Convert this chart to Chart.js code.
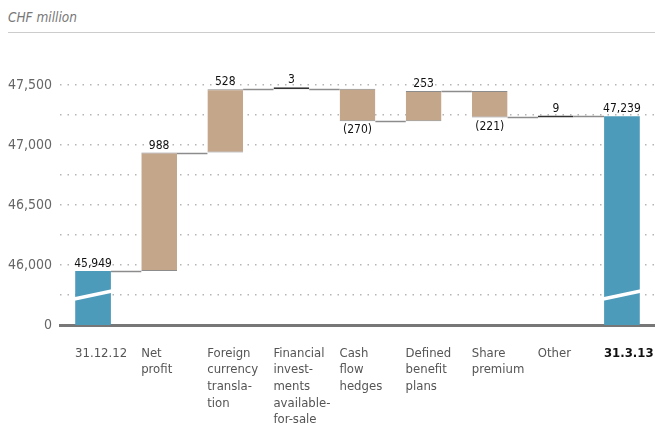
<!DOCTYPE html>
<html>
<head>
<meta charset="utf-8">
<script src="https://cdn.jsdelivr.net/npm/chart.js@4"></script>
<style>
  body { margin: 0; background: #fff; }
  #wrap { width: 655px; height: 436px; position: relative; overflow: hidden; }
  #unit { position: absolute; left: 8px; top: 9px; font: italic 13.5px 'Liberation Sans Narrow', 'DejaVu Sans Condensed', sans-serif; color: #777; }
  #rule { position: absolute; left: 8px; right: 0; top: 32px; border-top: 1.5px solid #ccc; }
  #box { position: absolute; left: 0; top: 36px; width: 655px; height: 400px; }
</style>
</head>
<body>
<div id="wrap">
  <div id="unit">CHF million</div>
  <div id="rule"></div>
  <div id="box"><canvas id="waterfall"></canvas></div>
</div>
<script>
const categories = [
    ['31.12.12'],
    ['Net', 'profit'],
    ['Foreign', 'currency', 'transla-', 'tion'],
    ['Financial', 'invest-', 'ments', 'available-', 'for-sale'],
    ['Cash', 'flow', 'hedges'],
    ['Defined', 'benefit', 'plans'],
    ['Share', 'premium'],
    ['Other'],
    ['31.3.13']
];
// totals are absolute, the rest are changes
const values = [45949, 988, 528, 3, -270, 253, -221, 9, 47239];
const isTotal = [true, false, false, false, false, false, false, false, true];
const axisBase = 45500;   // bottom of the broken axis, labelled "0"
const axisTop = 47750;
const breakValue = 45750;
const labelledTicks = [46000, 46500, 47000, 47500];

const FONT = "'Liberation Sans Narrow', 'DejaVu Sans Condensed', sans-serif";
const BLUE = '#4d9bba';
const BROWN = '#c4a68b';

// floating ranges for the waterfall
let running = 0;
const ranges = values.map((v, i) => {
    if (isTotal[i]) {
        running = v;
        return [axisBase, v];
    }
    const start = running;
    running += v;
    return [start, running];
});
const small = values.map((v, i) => !isTotal[i] && Math.abs(v) < 20);

const waterfallExtras = {
    id: 'waterfallExtras',
    afterDatasetsDraw(chart) {
        const ctx = chart.ctx;
        const meta = chart.getDatasetMeta(0);
        const y = chart.scales.y;
        ctx.save();
        // connectors between bars
        ctx.strokeStyle = '#8c8c8c';
        ctx.lineWidth = 1.5;
        for (let i = 0; i < meta.data.length - 1; i++) {
            const a = meta.data[i], b = meta.data[i + 1];
            const py = Math.round(y.getPixelForValue(ranges[i][1])) + 0.5;
            ctx.beginPath();
            ctx.moveTo(a.x + a.width / 2, py);
            ctx.lineTo(b.x - b.width / 2, py);
            ctx.stroke();
        }
        // axis break marks on the total bars
        const pb = y.getPixelForValue(breakValue);
        ctx.strokeStyle = '#fff';
        ctx.lineWidth = 3.5;
        meta.data.forEach((bar, i) => {
            if (!isTotal[i]) return;
            ctx.beginPath();
            ctx.moveTo(bar.x - bar.width / 2 - 1, pb + 4);
            ctx.lineTo(bar.x + bar.width / 2 + 1, pb - 4);
            ctx.stroke();
        });
        // value labels
        ctx.fillStyle = '#111';
        ctx.font = '12px ' + FONT;
        ctx.textAlign = 'center';
        meta.data.forEach((bar, i) => {
            const top = Math.min(bar.y, bar.base);
            const bottom = Math.max(bar.y, bar.base);
            const v = values[i];
            if (isTotal[i] || v >= 0) {
                const text = isTotal[i] ? v.toLocaleString('en-US') : String(v);
                ctx.textBaseline = 'bottom';
                ctx.fillText(text, bar.x, top - 1);
            } else {
                ctx.textBaseline = 'top';
                ctx.fillText('(' + (-v) + ')', bar.x, bottom + 3);
            }
        });
        ctx.restore();
    }
};

new Chart(document.getElementById('waterfall').getContext('2d'), {
    type: 'bar',
    data: {
        labels: categories,
        datasets: [{
            data: ranges,
            backgroundColor: values.map((v, i) => isTotal[i] ? BLUE : (small[i] ? '#333' : BROWN)),
            borderColor: values.map((v, i) => small[i] ? '#333' : '#8c8c8c'),
            borderWidth: values.map((v, i) => isTotal[i] ? 0 : {top: 1, bottom: 1, left: 0, right: 0}),
            borderSkipped: false,
            minBarLength: 2,
            barPercentage: 0.54,
            categoryPercentage: 1
        }]
    },
    options: {
        responsive: true,
        maintainAspectRatio: false,
        animation: false,
        layout: { padding: { top: 19, right: 0, left: 0, bottom: 0 } },
        plugins: {
            legend: { display: false },
            tooltip: { enabled: false }
        },
        scales: {
            x: {
                offset: true,
                grid: { display: false },
                border: { display: true, color: '#777', width: 3 },
                ticks: {
                    autoSkip: false,
                    maxRotation: 0,
                    align: 'start',
                    labelOffset: -18,
                    padding: 12,
                    color: ctx => ctx.index === 8 ? '#111' : '#555',
                    font: ctx => ({ family: FONT, size: 13, lineHeight: 1.28, weight: ctx.index === 8 ? 'bold' : 'normal' })
                },
                afterFit(s) { s.height = 111; s.paddingLeft = 0; s.paddingRight = 0; }
            },
            y: {
                min: axisBase,
                max: axisTop,
                border: { display: false, dash: [1.5, 6] },
                grid: {
                    drawTicks: false,
                    lineWidth: 1.5,
                    color: ctx => (ctx.tick && ctx.tick.value > axisBase && ctx.tick.value < axisTop) ? '#b5b5b5' : 'rgba(0,0,0,0)'
                },
                ticks: {
                    stepSize: 250,
                    autoSkip: false,
                    padding: 8,
                    color: '#666',
                    font: { family: FONT, size: 14 },
                    callback(value) {
                        if (value === axisBase) return '0';
                        if (labelledTicks.includes(value)) return value.toLocaleString('en-US');
                        return '';
                    }
                },
                afterFit(s) { s.width = 60; }
            }
        }
    },
    plugins: [waterfallExtras]
});
</script>
</body>
</html>
